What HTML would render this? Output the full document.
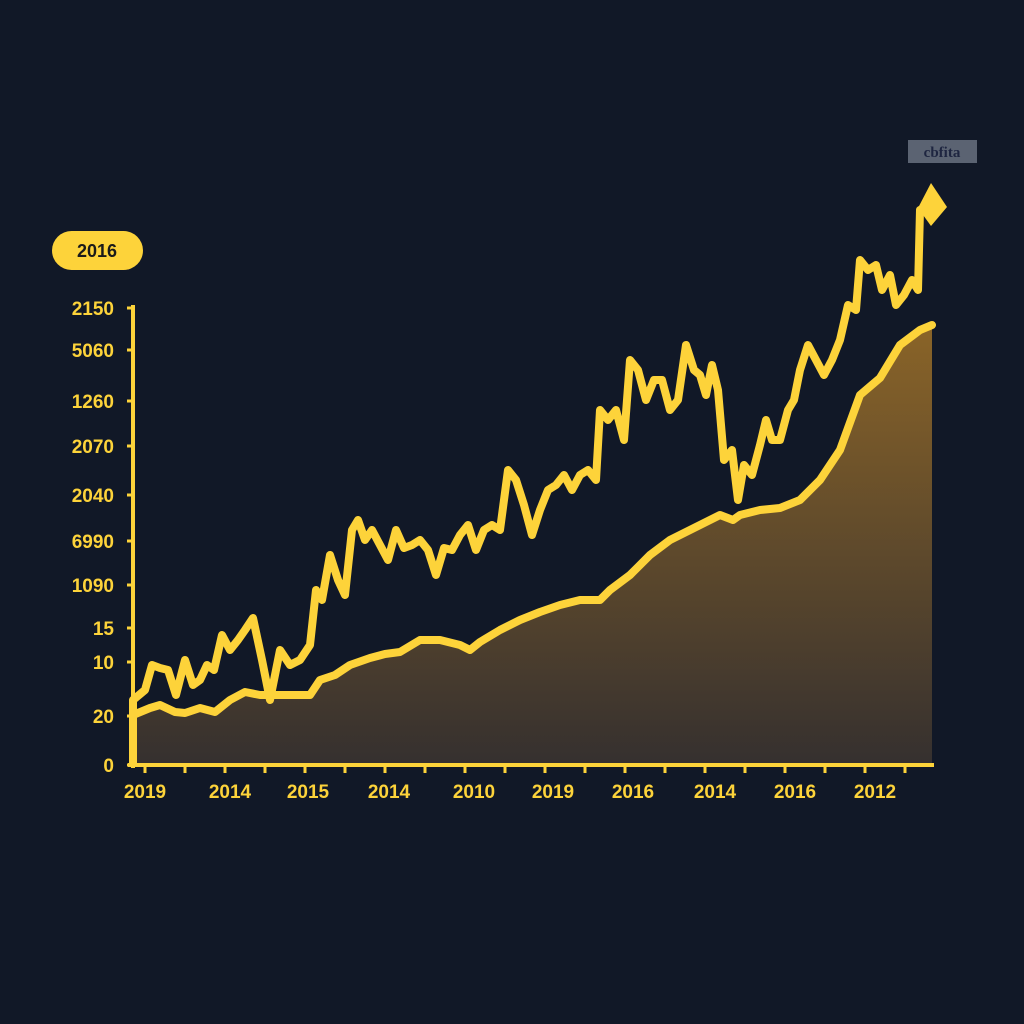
<!DOCTYPE html>
<html><head><meta charset="utf-8"><style>
html,body{margin:0;padding:0;background:#111827;}
svg{display:block;font-family:"Liberation Sans",sans-serif;font-weight:bold;}
</style></head><body>
<svg id="chart" width="1024" height="1024" viewBox="0 0 1024 1024">
<defs>
<linearGradient id="areaGrad" x1="0" y1="0" x2="0" y2="1">
<stop offset="0" stop-color="#8a6428"/>
<stop offset="1" stop-color="#35302f"/>
</linearGradient>
</defs>
<rect width="1024" height="1024" fill="#111827"/>
<g id="area-layer"></g>
<g id="lines-layer"></g>
<g id="axes">
<line x1="133" y1="305" x2="133" y2="768" stroke="#fdd33a" stroke-width="4"/>
<line x1="133" y1="700" x2="133" y2="766" stroke="#fdd33a" stroke-width="8"/>
<line x1="128" y1="765" x2="934" y2="765" stroke="#fdd33a" stroke-width="4"/>
</g>
<g id="yticks"></g>
<g id="xticks"></g>
<g>
<rect x="52" y="231" width="91" height="39" rx="19.5" fill="#fdd33a"/>
<text x="97" y="257" text-anchor="middle" font-size="18" fill="#1a1a1a">2016</text>
</g>
<g>
<rect x="908" y="140" width="69" height="23" fill="#5b6372"/>
<text x="942" y="157" text-anchor="middle" font-size="15" fill="#1e2540" font-family="Liberation Serif,serif" font-weight="bold">cbfita</text>
</g>
<polygon points="931,183 947,207 931,226 918,208" fill="#fdd33a"/>
</svg>
<script>
const upperT=[0,12,19,27,35,43,52,60,67,74,81,89,97,105,112,120,129,137,147,157,167,177,183,189,197,205,212,219,225,232,239,247,255,263,271,279,287,295,303,311,319,327,335,343,351,359,367,375,383,391,399,407,415,423,431,439,447,455,463,467,475,483,491,497,505,513,521,529,537,545,553,561,567,573,579,585,591,599,605,611,619,627,633,639,647,655,661,667,675,683,691,699,707,715,723,727,735,743,749,757,763,771,779,785,787,797];
const upperV=[65,75,100,97,95,70,105,80,85,100,95,130,115,125,135,147,105,65,115,100,105,120,175,165,210,185,170,235,245,225,235,220,205,235,217,220,225,215,190,217,215,230,240,215,235,240,235,295,285,260,230,255,275,280,290,275,290,295,285,355,345,355,325,405,395,365,385,385,355,365,420,395,390,370,400,375,305,315,265,300,290,320,345,325,325,355,365,395,420,405,390,405,425,460,455,505,495,500,475,490,460,470,485,475,555,560];
const lowerT=[0,17,27,42,52,67,82,97,112,127,147,162,177,187,202,217,237,252,267,287,307,327,337,347,367,387,407,427,447,467,477,497,517,537,557,567,587,600,607,627,647,667,687,707,727,747,767,787,799];
const lowerV=[50,57,60,53,52,57,53,65,73,70,70,70,70,85,90,100,107,111,113,125,125,120,115,123,135,145,153,160,165,165,175,190,210,225,235,240,250,245,250,255,257,265,285,315,370,387,420,435,440];
const yTickLabels=["0","20","10","15","1090","6990","2040","2070","1260","5060","2150"];
const yTickVals=[0,49,103,137,180,224,270,319,364,415,457];
const xTickLabels=["2019","2014","2015","2014","2010","2019","2016","2014","2016","2012"];
const xTickT=[12,97,175,256,341,420,500,582,662,742];
const NS="http://www.w3.org/2000/svg";
const xS=t=>133+t;
const yS=v=>765-v;
const Y="#fdd33a";
function pts(T,V){return T.map((t,i)=>xS(t).toFixed(1)+","+yS(V[i]).toFixed(1));}
const area=document.createElementNS(NS,"polygon");


area.setAttribute("points",pts(lowerT,lowerV).join(" ")+" "+xS(lowerT[lowerT.length-1])+","+yS(0)+" "+xS(0)+","+yS(0));
area.setAttribute("fill","url(#areaGrad)");
document.getElementById("area-layer").appendChild(area);
function line(T,V,name){
const p=document.createElementNS(NS,"polyline");


p.setAttribute("points",pts(T,V).join(" "));
p.setAttribute("fill","none");p.setAttribute("stroke",Y);
p.setAttribute("stroke-width","8");p.setAttribute("stroke-linejoin","round");p.setAttribute("stroke-linecap","round");
document.getElementById("lines-layer").appendChild(p);}
line(lowerT,lowerV,"lower-series-line");
line(upperT,upperV,"upper-series-line");
const yg=document.getElementById("yticks");
yTickLabels.forEach((l,i)=>{
const tx=document.createElementNS(NS,"text");


tx.setAttribute("x",114);tx.setAttribute("y",yS(yTickVals[i])+7);
tx.setAttribute("text-anchor","end");tx.setAttribute("font-size","19");tx.setAttribute("fill",Y);
tx.textContent=l;yg.appendChild(tx);
const tk=document.createElementNS(NS,"line");


tk.setAttribute("x1",127);tk.setAttribute("x2",133);tk.setAttribute("y1",yS(yTickVals[i]));tk.setAttribute("y2",yS(yTickVals[i]));
tk.setAttribute("stroke",Y);tk.setAttribute("stroke-width","3");yg.appendChild(tk);
});
const xg=document.getElementById("xticks");
xTickLabels.forEach((l,i)=>{
const tx=document.createElementNS(NS,"text");


tx.setAttribute("x",xS(xTickT[i]));tx.setAttribute("y",798);
tx.setAttribute("text-anchor","middle");tx.setAttribute("font-size","19");tx.setAttribute("fill",Y);
tx.textContent=l;xg.appendChild(tx);
});
for(let t=12;t<=800;t+=40){
const tk=document.createElementNS(NS,"line");


tk.setAttribute("x1",xS(t));tk.setAttribute("x2",xS(t));tk.setAttribute("y1",765);tk.setAttribute("y2",773);
tk.setAttribute("stroke",Y);tk.setAttribute("stroke-width","3");xg.appendChild(tk);
}
</script>
</body></html>
